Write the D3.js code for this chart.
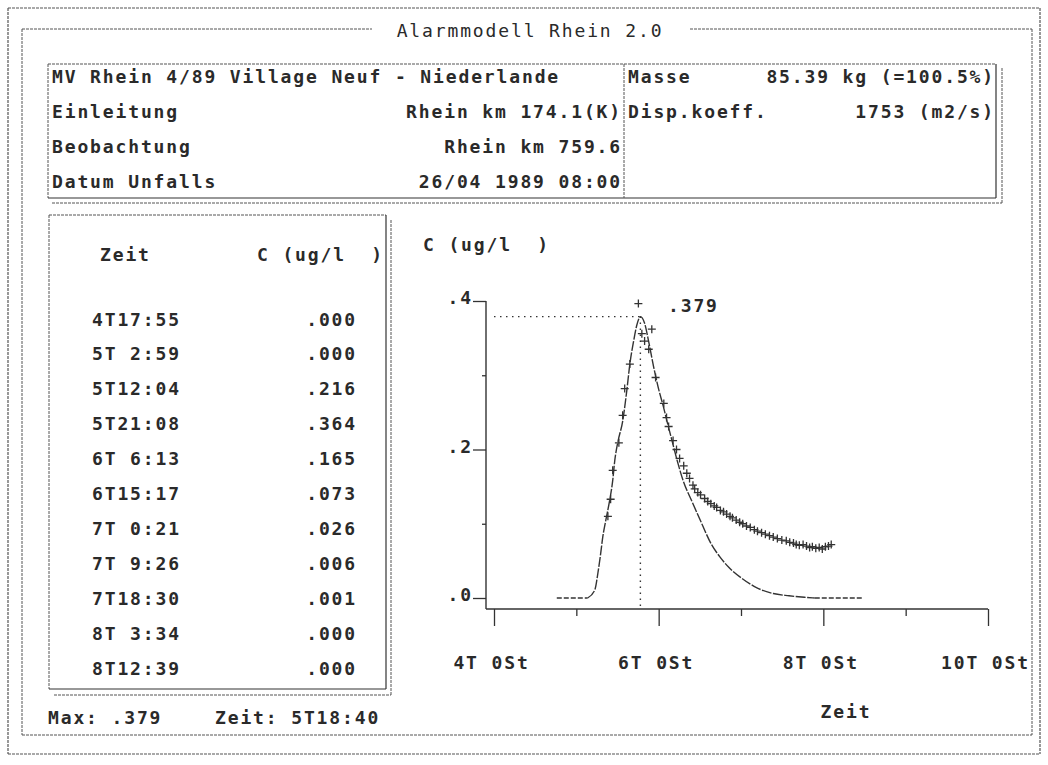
<!DOCTYPE html>
<html><head><meta charset="utf-8">
<script src="https://cdn.jsdelivr.net/npm/d3@7"></script>
<style>
html,body{margin:0;padding:0;background:#fff;}
svg text{font-family:"DejaVu Sans Mono",monospace;font-weight:bold;fill:#2a2a2a;white-space:pre;}
</style></head>
<body><svg id="c" width="1048" height="765"></svg>
<script>
// ---- data ----
const title = "Alarmmodell Rhein 2.0";
const infoLeftLabels = ["MV Rhein 4/89 Village Neuf - Niederlande","Einleitung","Beobachtung","Datum Unfalls"];
const infoLeftValues = ["","Rhein km 174.1(K)","Rhein km 759.6","26/04 1989 08:00"];
const infoRightLabels = ["Masse","Disp.koeff."];
const infoRightValues = ["85.39 kg (=100.5%)","1753 (m2/s)"];
const unitLabel = "C (ug/l  )";
const tableTimes = ["4T17:55","5T 2:59","5T12:04","5T21:08","6T 6:13","6T15:17","7T 0:21","7T 9:26","7T18:30","8T 3:34","8T12:39"];
const tableValues = [".000",".000",".216",".364",".165",".073",".026",".006",".001",".000",".000"];
const maxValue = 0.379;
const maxTimeHours = 42.67;            // 5T18:40 in hours since 4T 0:00
const maxLabel = "Max: .379";
const maxTimeLabel = "Zeit: 5T18:40";
const yTicksMajor = [0, 0.2, 0.4];
const yTicksMinor = [0.1, 0.3];
const yTickLabels = [".0", ".2", ".4"];
const xTicksMajor = [0, 48, 96, 144];
const xTicksMinor = [24, 72, 120];
const xTickLabels = ["4T 0St", "6T 0St", "8T 0St", "10T 0St"];
// model curve (hours since 4T 0:00, concentration)
const modelLeadHours = [18.3, 27.3];
const modelTailHours = [93.5, 107.3];
const modelHours  = [27.3, 29.4, 30.3, 31.1, 31.7, 32.6, 33.7, 34.6, 35.2, 36.1, 37.5, 38.7, 39.6, 40.7, 41.6, 42.7, 43.9, 45.1, 46.5, 47.9, 49.3, 50.6, 52.0, 53.4, 55.0, 57.9, 60.1, 63.3, 65.9, 68.5, 72.4, 76.5, 81.4, 86.0, 90.5, 93.5];
const modelValues = [0.000, 0.011, 0.034, 0.060, 0.082, 0.105, 0.131, 0.158, 0.185, 0.210, 0.238, 0.279, 0.315, 0.346, 0.367, 0.379, 0.370, 0.345, 0.312, 0.283, 0.259, 0.235, 0.210, 0.185, 0.160, 0.128, 0.105, 0.073, 0.055, 0.041, 0.026, 0.014, 0.006, 0.003, 0.001, 0.000];
// observed measurements
const obsHours = [33.2,34.0,34.6,36.4,37.5,38.1,39.6,43.1,43.9,46.0,45.1,47.1,49.5,50.3,50.9,52.2,53.2,54.1,55.3,56.2,57.0,58.0,58.5,59.4,60.2,61.4,62.3,63.2,64.2,64.9,66.0,66.9,67.8,68.8,69.5,70.6,71.6,72.5,73.6,74.7,75.9,76.8,78.0,79.1,80.3,81.4,82.6,83.9,85.2,86.2,87.3,88.1,89.0,90.1,91.1,92.0,92.8,93.8,94.8,95.7,96.6,97.5,98.3];
const obsValues = [0.110,0.133,0.172,0.209,0.246,0.282,0.315,0.356,0.346,0.362,0.335,0.297,0.262,0.243,0.231,0.212,0.200,0.188,0.178,0.168,0.161,0.152,0.147,0.142,0.139,0.134,0.130,0.127,0.124,0.122,0.118,0.116,0.113,0.110,0.108,0.105,0.102,0.100,0.097,0.095,0.092,0.090,0.088,0.086,0.084,0.082,0.080,0.078,0.077,0.075,0.074,0.072,0.071,0.072,0.070,0.068,0.069,0.067,0.068,0.066,0.069,0.070,0.072];

// ---- drawing ----
const svg = d3.select("#c");
const FS = 18, CW = 12.7, LS = CW - 0.602*FS;
function txt(g, x, y, s, align, weight){
  const n = s.length;
  let sx = x;
  if(align==="end") sx = x - n*CW;
  else if(align==="middle") sx = x - n*CW/2;
  return g.append("text").attr("x", sx).attr("y", y)
    .attr("dominant-baseline","central")
    .style("font-size", FS+"px").style("letter-spacing", LS+"px")
    .style("font-weight", weight||"bold").text(s);
}
function line(x1,y1,x2,y2,dash,w,col){
  svg.append("line").attr("x1",x1).attr("y1",y1).attr("x2",x2).attr("y2",y2)
    .attr("stroke",col||"#444").attr("stroke-width",w||1)
    .attr("stroke-dasharray",dash||null);
}
const DASH = "3,1";
// outer frame
line(8,8,1040,8,DASH,1.2,"#555"); line(8,8,8,754,DASH,1.2,"#555");
line(1040,8,1040,754,DASH,1.2,"#555"); line(8,754,1040,754,DASH,1.2,"#555");
// inner frame with title
line(22,29,372,29,DASH,1,"#555"); line(690,29,1032,29,DASH,1,"#555");
line(22,29,22,735,DASH,1,"#555"); line(1032,29,1032,735,DASH,1,"#555");
line(22,735,1032,735,DASH,1,"#555");
txt(svg, 530, 30, title, "middle", "normal");

// info box
line(48,64,996,64,DASH,1,"#555"); line(48,64,48,198,DASH,1,"#555");
line(996,64,996,198,null,1.2,"#333"); line(48,198,996,198,null,1.2,"#333");
line(1002,68,1002,203,DASH,1,"#555"); line(52,203,1002,203,DASH,1,"#555");
line(624,64,624,198,DASH,1,"#555");
const infoY = [76, 111, 146, 181];
infoLeftLabels.forEach((s,i)=>txt(svg, 52, infoY[i], s, "start"));
infoLeftValues.forEach((s,i)=>{ if(s) txt(svg, 622, infoY[i], s, "end"); });
infoRightLabels.forEach((s,i)=>txt(svg, 628, infoY[i], s, "start"));
infoRightValues.forEach((s,i)=>txt(svg, 995, infoY[i], s, "end"));

// table box
line(49,215,386,215,DASH,1,"#555"); line(49,215,49,689,DASH,1,"#555");
line(386,215,386,689,null,1.2,"#333"); line(49,689,386,689,null,1.2,"#333");
line(391,220,391,695,DASH,1,"#555"); line(54,695,391,695,DASH,1,"#555");
txt(svg, 100, 254, "Zeit", "start");
txt(svg, 257, 254, unitLabel, "start");
tableTimes.forEach((s,i)=>txt(svg, 92, 319 + i*34.9, s, "start"));
tableValues.forEach((s,i)=>txt(svg, 357, 319 + i*34.9, s, "end"));
txt(svg, 48, 717, maxLabel, "start");
txt(svg, 215, 717, maxTimeLabel, "start");

// chart
const x = d3.scaleLinear().domain([0,144]).range([494,988]);
const y = d3.scaleLinear().domain([0,0.4]).range([598,301]);
const AX = 486, AY = 609;
txt(svg, 423, 244, unitLabel, "start");
txt(svg, 846, 711, "Zeit", "middle");

function styleAxis(g){
  g.select(".domain").remove();
  g.selectAll(".tick line").attr("stroke","#333").attr("stroke-width",1.3);
  g.selectAll("text").style("font-size",FS+"px").style("letter-spacing",LS+"px")
    .style("font-family","DejaVu Sans Mono, monospace").style("font-weight","bold").attr("fill","#2a2a2a");
}
const yMaj = svg.append("g").attr("transform",`translate(${AX},0)`)
  .call(d3.axisLeft(y).tickValues(yTicksMajor).tickSize(13).tickPadding(0)
    .tickFormat((d,i)=>yTickLabels[i]));
styleAxis(yMaj);
yMaj.selectAll("text").attr("dy",null).attr("y",-4).attr("dominant-baseline","central");
const yMin = svg.append("g").attr("transform",`translate(${AX},0)`)
  .call(d3.axisLeft(y).tickValues(yTicksMinor).tickSize(4).tickFormat(""));
styleAxis(yMin);

const xMaj = svg.append("g").attr("transform",`translate(0,${AY})`)
  .call(d3.axisBottom(x).tickValues(xTicksMajor).tickSize(17).tickPadding(40)
    .tickFormat((d,i)=>xTickLabels[i]));
styleAxis(xMaj);
xMaj.selectAll("text").attr("dy",null).attr("x",-3).attr("y",53).attr("dominant-baseline","central");
const xMin = svg.append("g").attr("transform",`translate(0,${AY})`)
  .call(d3.axisBottom(x).tickValues(xTicksMinor).tickSize(7).tickFormat(""));
styleAxis(xMin);
line(AX, y(0.4), AX, AY, null, 1.4, "#333");
line(AX, AY, x(144), AY, null, 1.4, "#333");

// max reference dotted lines
line(AX+8, y(maxValue), x(maxTimeHours), y(maxValue), "1.5,4.5", 1.4, "#333");
line(x(maxTimeHours), y(maxValue), x(maxTimeHours), AY-3, "1.5,4.5", 1.4, "#333");

// model curve
const lg = d3.line().x(d=>x(d[0])).y(d=>y(d[1]));
svg.append("path").datum(modelLeadHours.map(h=>[h,0])).attr("d",lg)
  .attr("fill","none").attr("stroke","#333").attr("stroke-width",1.3).attr("stroke-dasharray","5,2");
svg.append("path").datum(modelTailHours.map(h=>[h,0])).attr("d",lg)
  .attr("fill","none").attr("stroke","#333").attr("stroke-width",1.3).attr("stroke-dasharray","5,2");
svg.append("path").datum(modelHours.map((h,i)=>[h,modelValues[i]]))
  .attr("d", d3.line().x(d=>x(d[0])).y(d=>y(d[1])).curve(d3.curveMonotoneX))
  .attr("fill","none").attr("stroke","#333").attr("stroke-width",1.4).attr("stroke-dasharray","10,1.5");

// observation crosses
const cs = 4;
svg.append("g").selectAll("path").data(obsHours.map((h,i)=>[h,obsValues[i]])).join("path")
  .attr("d", d=>{const px=x(d[0]), py=y(d[1]);
    return `M${px-cs},${py}H${px+cs}M${px},${py-cs}V${py+cs}`;})
  .attr("stroke","#333").attr("stroke-width",1.3).attr("fill","none");

// max marker
const mx = x(maxTimeHours)-2, my = y(maxValue)-13;
svg.append("path").attr("d",`M${mx-cs},${my}H${mx+cs}M${mx},${my-cs}V${my+cs}`)
  .attr("stroke","#333").attr("stroke-width",1.3);
txt(svg, 668, 305, "." + String(Math.round(maxValue*1000)), "start");
</script></body></html>
